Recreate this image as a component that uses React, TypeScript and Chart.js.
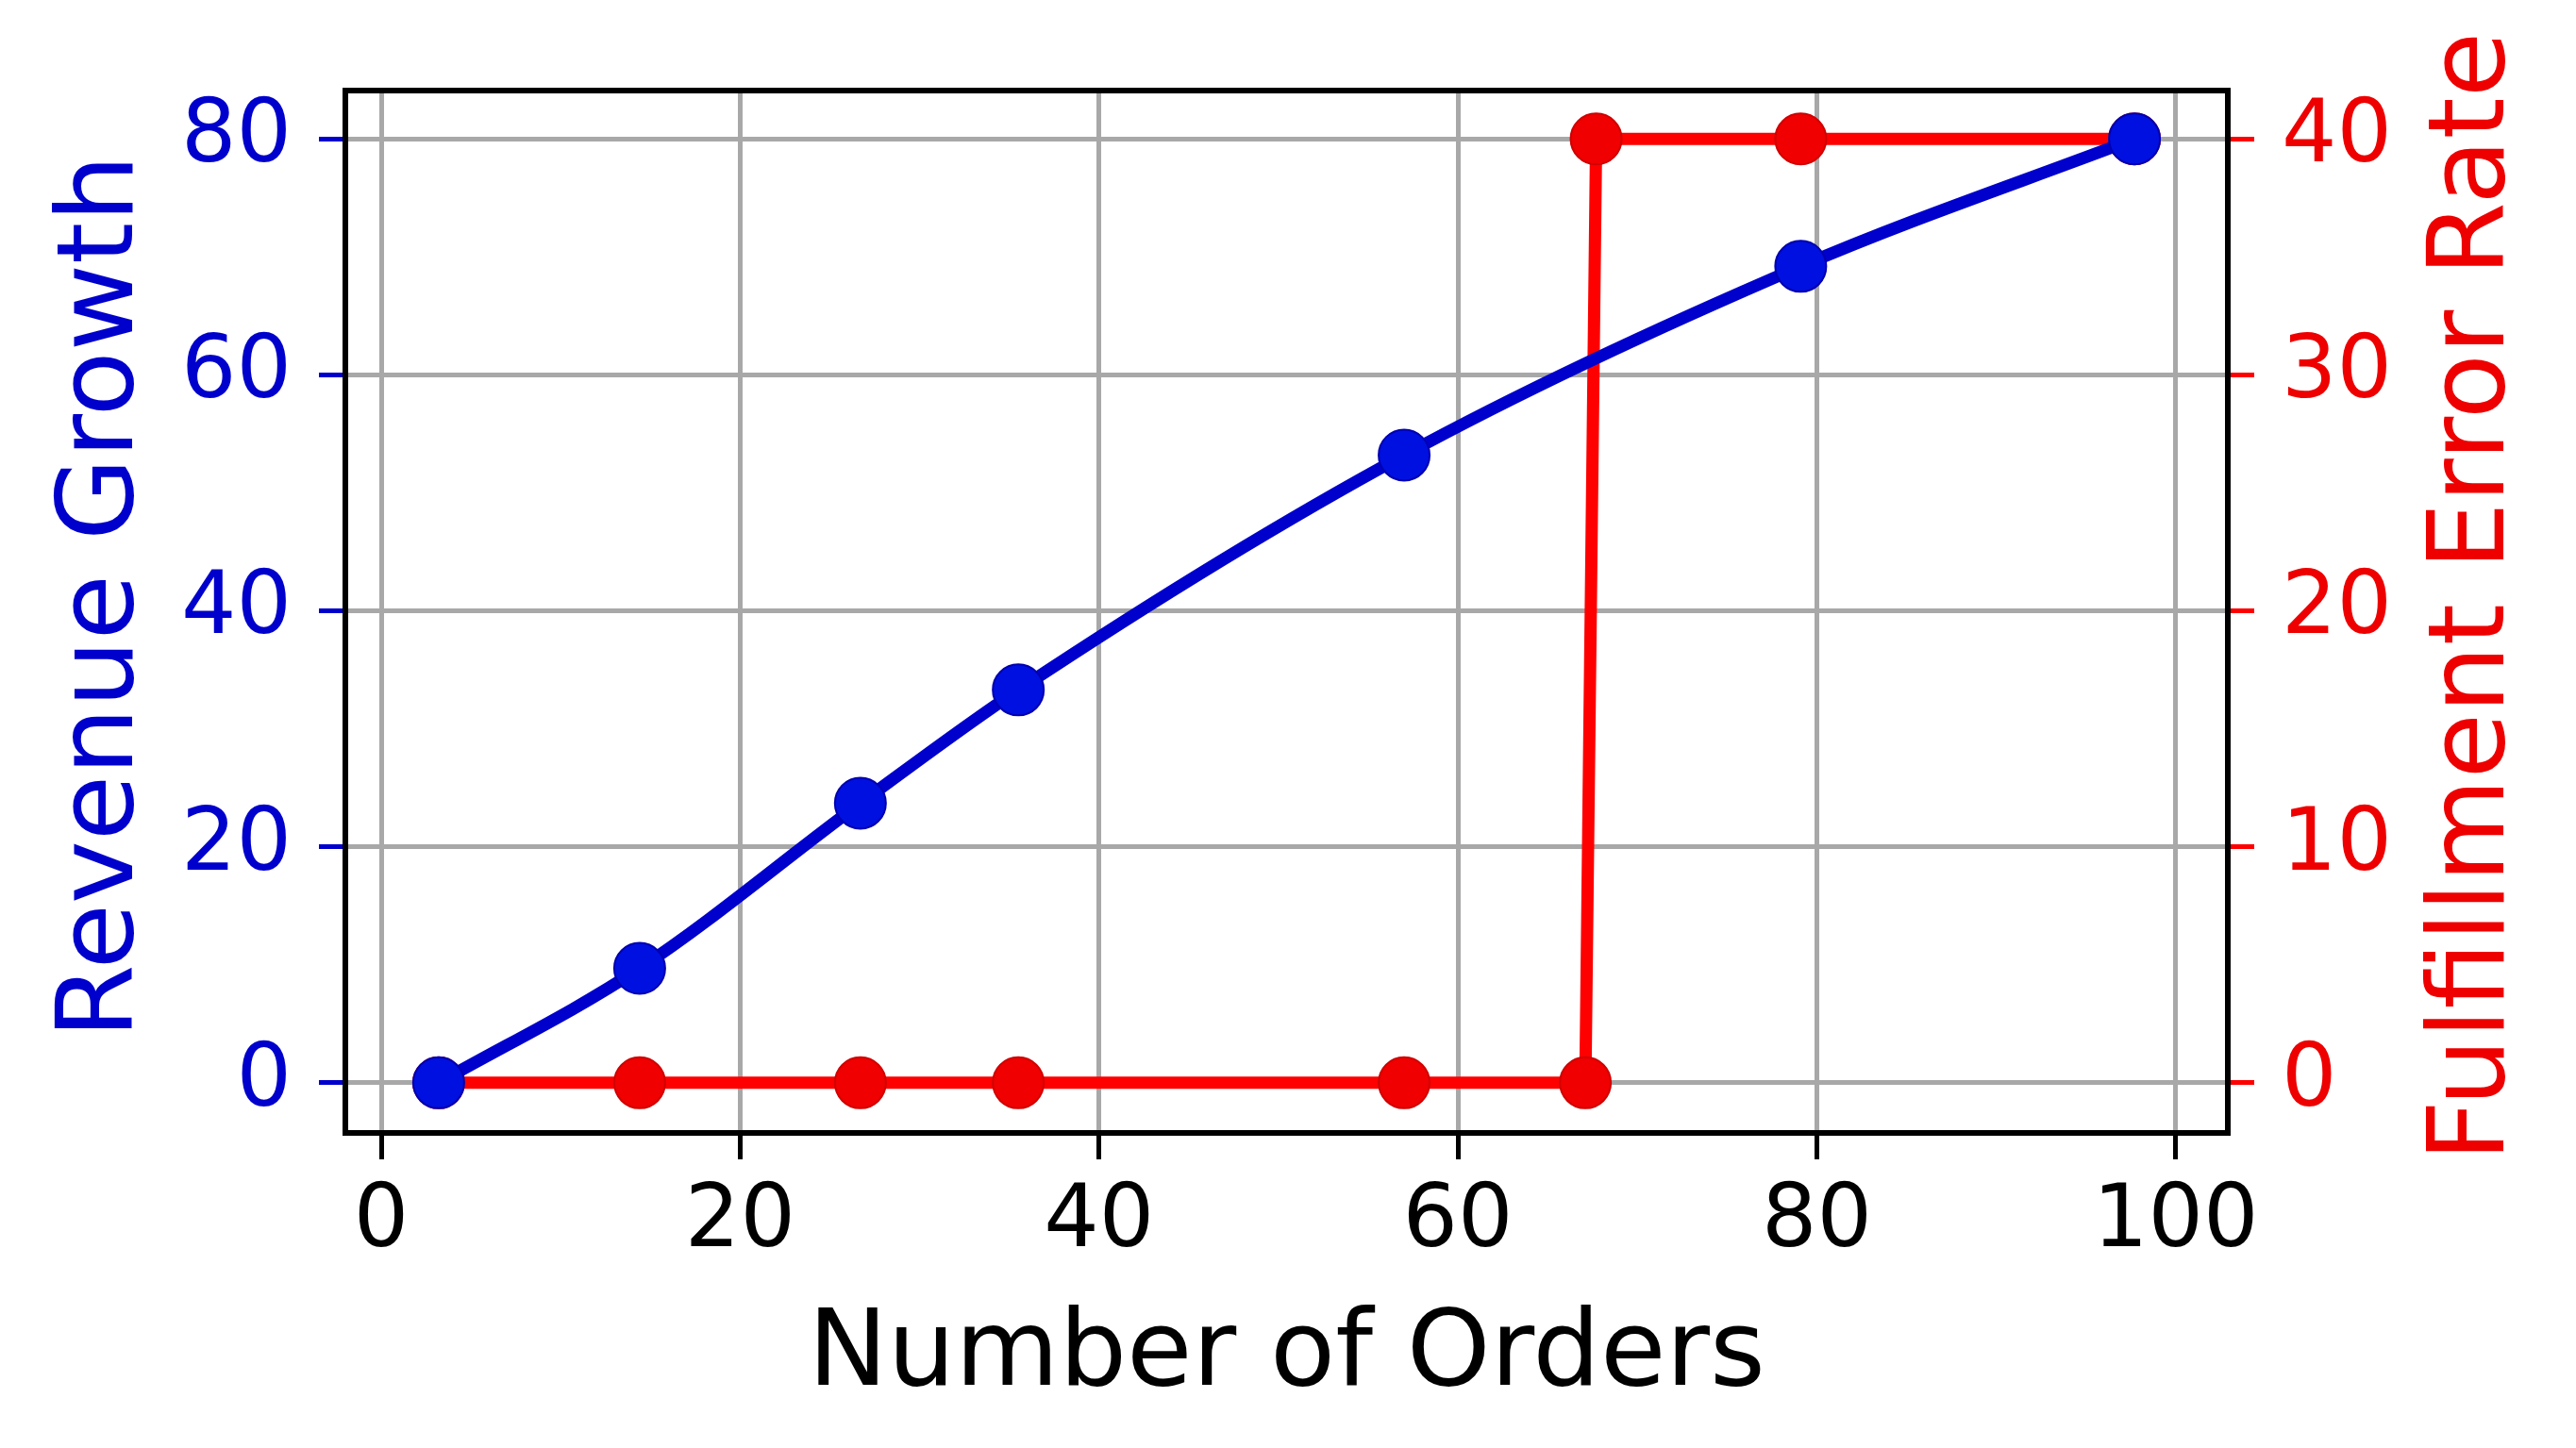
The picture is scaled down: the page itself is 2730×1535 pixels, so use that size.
import { useEffect, useRef } from "react";
import Chart from "chart.js/auto";

// values
const orderCounts = [3.2, 14.4, 26.7, 35.5, 57.0, 79.1, 97.7];
const revenueGrowth = [0, 9.7, 23.7, 33.3, 53.2, 69.2, 80.0];

const errorOrderCounts = [3.2, 14.4, 26.7, 35.5, 57.0, 67.1, 67.7, 79.1, 97.7];
const errorRate = [0, 0, 0, 0, 0, 0, 40, 40, 40];

const xTicks = [0, 20, 40, 60, 80, 100];
const leftTicks = [0, 20, 40, 60, 80];
const rightTicks = [0, 10, 20, 30, 40];

const xTitle = "Number of Orders";
const leftTitle = "Revenue Growth";
const rightTitle = "Fulfillment Error Rate";

const BLUE = "#0000CD";
const RED = "#FF0000";
const RED_TEXT = "#EE0000";
const GRID = "#a8a8a8";
const FONT = "DejaVu Sans";

const W = 2730;
const H = 1535;

// axis titles (right one reads bottom-to-top like matplotlib) and the frame
const framePlugin = {
  id: "frameAndTitles",
  afterDatasetsDraw(chart: any) {
    const { ctx, chartArea } = chart;
    ctx.save();
    ctx.strokeStyle = "#000";
    ctx.lineWidth = 6;
    ctx.strokeRect(
      chartArea.left,
      chartArea.top,
      chartArea.right - chartArea.left,
      chartArea.bottom - chartArea.top
    );
    ctx.restore();
  },
  afterDraw(chart: any) {
    const { ctx, chartArea } = chart;
    const midX = (chartArea.left + chartArea.right) / 2;
    const midY = (chartArea.top + chartArea.bottom) / 2 - 16;
    ctx.save();
    ctx.font = `113px "${FONT}"`;
    ctx.textAlign = "center";
    ctx.textBaseline = "alphabetic";

    ctx.fillStyle = "#000";
    ctx.fillText(xTitle, midX, chartArea.bottom + 267);

    ctx.save();
    ctx.translate(chartArea.left - 226, midY);
    ctx.rotate(-Math.PI / 2);
    ctx.fillStyle = BLUE;
    ctx.fillText(leftTitle, 0, 0);
    ctx.restore();

    ctx.save();
    ctx.translate(chartArea.right + 292, midY);
    ctx.rotate(-Math.PI / 2);
    ctx.fillStyle = RED_TEXT;
    ctx.fillText(rightTitle, 0, 0);
    ctx.restore();

    ctx.restore();
  },
};

export default function App() {
  const canvasRef = useRef<HTMLCanvasElement>(null);

  useEffect(() => {
    if (!canvasRef.current) return;
    const ctx = canvasRef.current.getContext("2d");
    if (!ctx) return;

    Chart.defaults.font.family = FONT;

    const chart = new Chart(ctx, {
      type: "line",
      data: {
        datasets: [
          {
            label: leftTitle,
            data: orderCounts.map((x, i) => ({ x, y: revenueGrowth[i] })),
            yAxisID: "y",
            borderColor: BLUE,
            borderWidth: 13,
            backgroundColor: BLUE,
            pointRadius: 27,
            pointBorderWidth: 2,
            pointBackgroundColor: "#0010E0",
            pointBorderColor: "#0000B0",
            cubicInterpolationMode: "monotone",
            fill: false,
            clip: false as any,
          },
          {
            label: rightTitle,
            data: errorOrderCounts.map((x, i) => ({ x, y: errorRate[i] })),
            yAxisID: "y1",
            borderColor: RED,
            borderWidth: 13,
            backgroundColor: RED,
            pointRadius: 27,
            pointBorderWidth: 2,
            pointBackgroundColor: "#F00000",
            pointBorderColor: "#D00000",
            tension: 0,
            fill: false,
            clip: false as any,
          },
        ],
      },
      options: {
        animation: false,
        responsive: false,
        devicePixelRatio: 1,
        layout: { padding: { top: 96, left: 0, right: 0, bottom: 0 } },
        plugins: {
          legend: { display: false },
          tooltip: { enabled: false },
        },
        scales: {
          x: {
            type: "linear",
            min: -2,
            max: 102.9,
            afterBuildTicks: (s: any) => {
              s.ticks = xTicks.map((v) => ({ value: v }));
            },
            afterFit: (s: any) => {
              s.height = 334;
            },
            grid: {
              color: GRID,
              lineWidth: 5,
              tickColor: "#000",
              tickLength: 28,
              tickWidth: 5,
            },
            border: { display: false },
            ticks: {
              color: "#000",
              font: { family: FONT, size: 92 },
              padding: 13,
              maxRotation: 0,
              autoSkip: false,
            },
          },
          y: {
            type: "linear",
            position: "left",
            min: -4.25,
            max: 84.1,
            afterBuildTicks: (s: any) => {
              s.ticks = leftTicks.map((v) => ({ value: v }));
            },
            afterFit: (s: any) => {
              s.width = 366;
            },
            grid: {
              color: GRID,
              lineWidth: 5,
              tickColor: BLUE,
              tickLength: 28,
              tickWidth: 5,
            },
            border: { display: false },
            ticks: {
              color: BLUE,
              font: { family: FONT, size: 92 },
              padding: 29,
              autoSkip: false,
            },
          },
          y1: {
            type: "linear",
            position: "right",
            min: -2.125,
            max: 42.05,
            afterBuildTicks: (s: any) => {
              s.ticks = rightTicks.map((v) => ({ value: v }));
            },
            afterFit: (s: any) => {
              s.width = 369;
            },
            grid: {
              drawOnChartArea: false,
              tickColor: RED,
              tickLength: 28,
              tickWidth: 5,
            },
            border: { display: false },
            ticks: {
              color: RED_TEXT,
              font: { family: FONT, size: 92 },
              padding: 29,
              autoSkip: false,
            },
          },
        },
      },
      plugins: [framePlugin],
    });

    return () => {
      chart.destroy();
    };
  }, []);

  return (
    <div
      style={{
        position: "fixed",
        left: 0,
        top: 0,
        width: W,
        height: H,
        background: "#fff",
      }}
    >
      <canvas ref={canvasRef} width={W} height={H} style={{ width: W, height: H }} />
    </div>
  );
}
